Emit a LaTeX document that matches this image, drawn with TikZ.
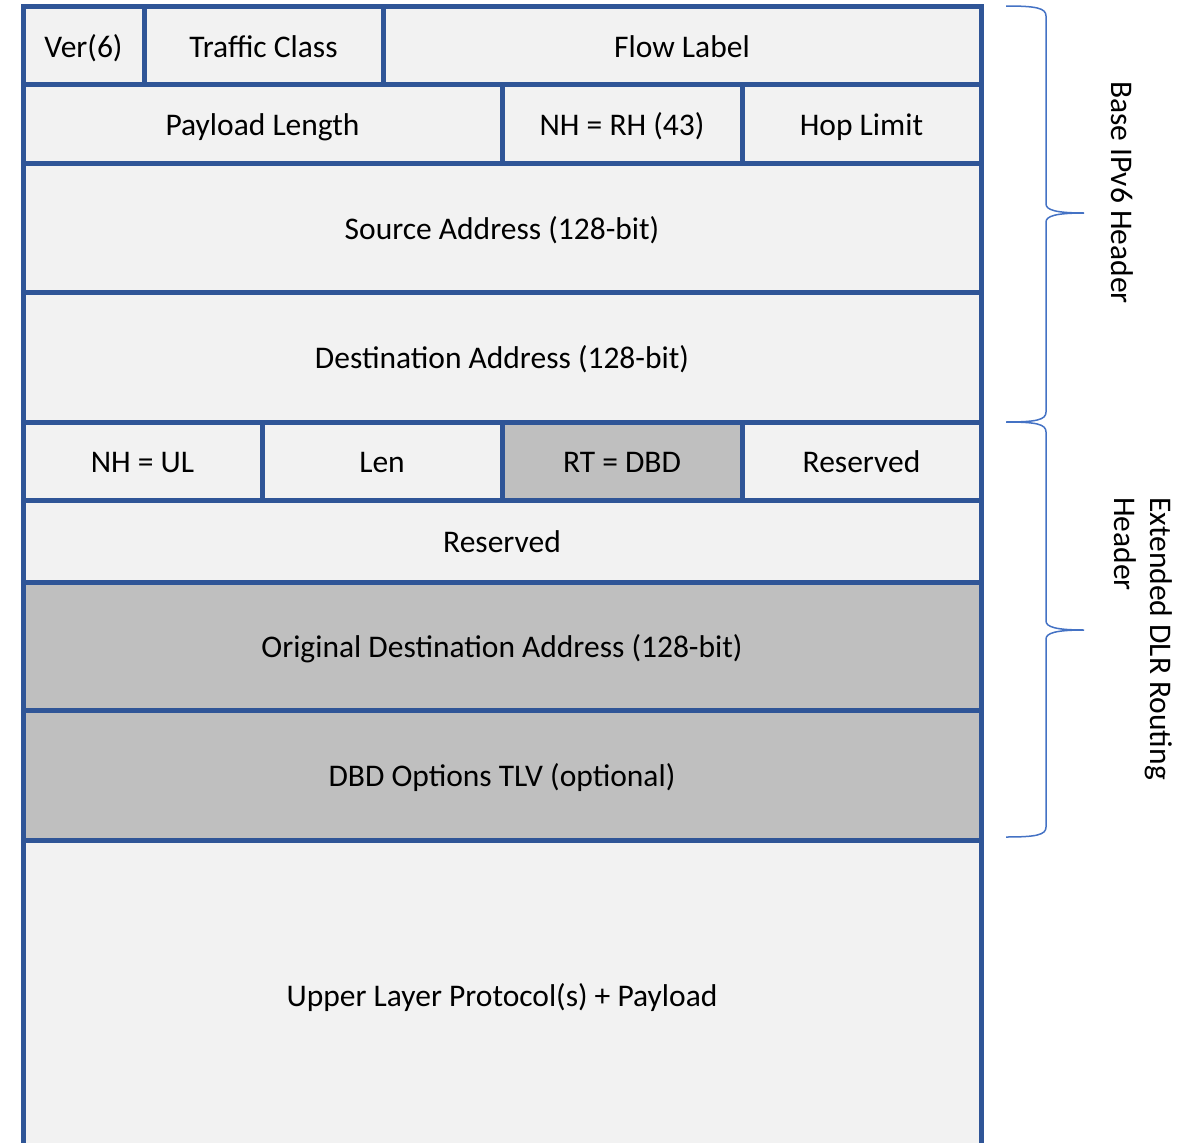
\documentclass[tikz,border=0pt]{standalone}
\usepackage{fontspec}
\setmainfont{Carlito}

\definecolor{hdrblue}{HTML}{2F5597}
\definecolor{lightfill}{HTML}{F2F2F2}
\definecolor{darkfill}{HTML}{BFBFBF}
\definecolor{bracecol}{HTML}{4472C4}

\tikzset{
  field/.style={draw=hdrblue, line width=5pt, fill=lightfill, inner sep=0pt,
    text height=30pt, text depth=7pt, font=\fontsize{31.5}{38}\selectfont},
  dlrfield/.style={field, fill=darkfill},
  hdrbrace/.style={draw=bracecol, line width=1.5pt},
  sidelabel/.style={rotate=-90, align=left, inner sep=0pt,
    font=\fontsize{31.5}{36}\selectfont}
}

\begin{document}
\begin{tikzpicture}[x=1pt,y=-1pt]
    \useasboundingbox (0,0) rectangle (1202,1143);

    % Base IPv6 header
    \node[field, minimum width=121pt, minimum height=78pt] (ver) at (83.5,45.5) {Ver(6)};
    \node[field, minimum width=239pt, minimum height=78pt] (tclass) at (263.5,45.5) {Traffic Class};
    \node[field, minimum width=598pt, minimum height=78pt] (flow) at (682,45.5) {Flow Label};

    \node[field, minimum width=479pt, minimum height=78.5pt] (plen) at (262.5,123.75) {Payload Length};
    \node[field, minimum width=240pt, minimum height=78.5pt] (nh) at (622,123.75) {NH = RH (43)};
    \node[field, minimum width=239pt, minimum height=78.5pt] (hlim) at (861.5,123.75) {Hop Limit};

    \node[field, minimum width=958pt, minimum height=129pt] (src) at (502,227.5) {Source Address (128-bit)};
    \node[field, minimum width=958pt, minimum height=130pt] (dst) at (502,357) {Destination Address (128-bit)};

    % DLR routing header
    \node[field, minimum width=239pt, minimum height=78pt] (nhul) at (142.5,461) {NH = UL};
    \node[field, minimum width=240pt, minimum height=78pt] (len) at (382,461) {Len};
    \node[dlrfield, minimum width=240pt, minimum height=78pt] (rt) at (622,461) {RT = DBD};
    \node[field, minimum width=239pt, minimum height=78pt] (resv) at (861.5,461) {Reserved};

    \node[field, minimum width=958pt, minimum height=82pt] (resvrow) at (502,541) {Reserved};
    \node[dlrfield, minimum width=958pt, minimum height=128pt] (odst) at (502,646) {Original Destination Address (128-bit)};
    \node[dlrfield, minimum width=958pt, minimum height=130pt] (opts) at (502,775) {DBD Options TLV (optional)};

    % Payload
    \node[field, minimum width=958pt, minimum height=310pt] (ulp) at (502,995) {Upper Layer Protocol(s) + Payload};

    % Braces
    \coordinate (basetop) at (1006,6);
    \coordinate (basetip) at (1084,213);
    \coordinate (basebot) at (1006,422);
    \coordinate (exttop) at (1006,422);
    \coordinate (exttip) at (1084,630);
    \coordinate (extbot) at (1006,837);
    \draw[hdrbrace] (basetop) .. controls (1036,6) and (1046,8) .. (1046,16) -- (1046,204)
        .. controls (1046,210) and (1056,213) .. (basetip)
        .. controls (1056,213) and (1046,216) .. (1046,222) -- (1046,412)
        .. controls (1046,420) and (1036,422) .. (basebot);
    \draw[hdrbrace] (exttop) .. controls (1036,422) and (1046,424) .. (1046,432) -- (1046,621)
        .. controls (1046,627) and (1056,630) .. (exttip)
        .. controls (1056,630) and (1046,633) .. (1046,639) -- (1046,827)
        .. controls (1046,835) and (1036,837) .. (extbot);

    % Labels
    \node[sidelabel] (baselbl) at (1122,192.5) {Base IPv6 Header};
    \node[sidelabel] (extlbl) at (1143,638.5) {Extended DLR Routing\\Header};
\end{tikzpicture}
\end{document}
